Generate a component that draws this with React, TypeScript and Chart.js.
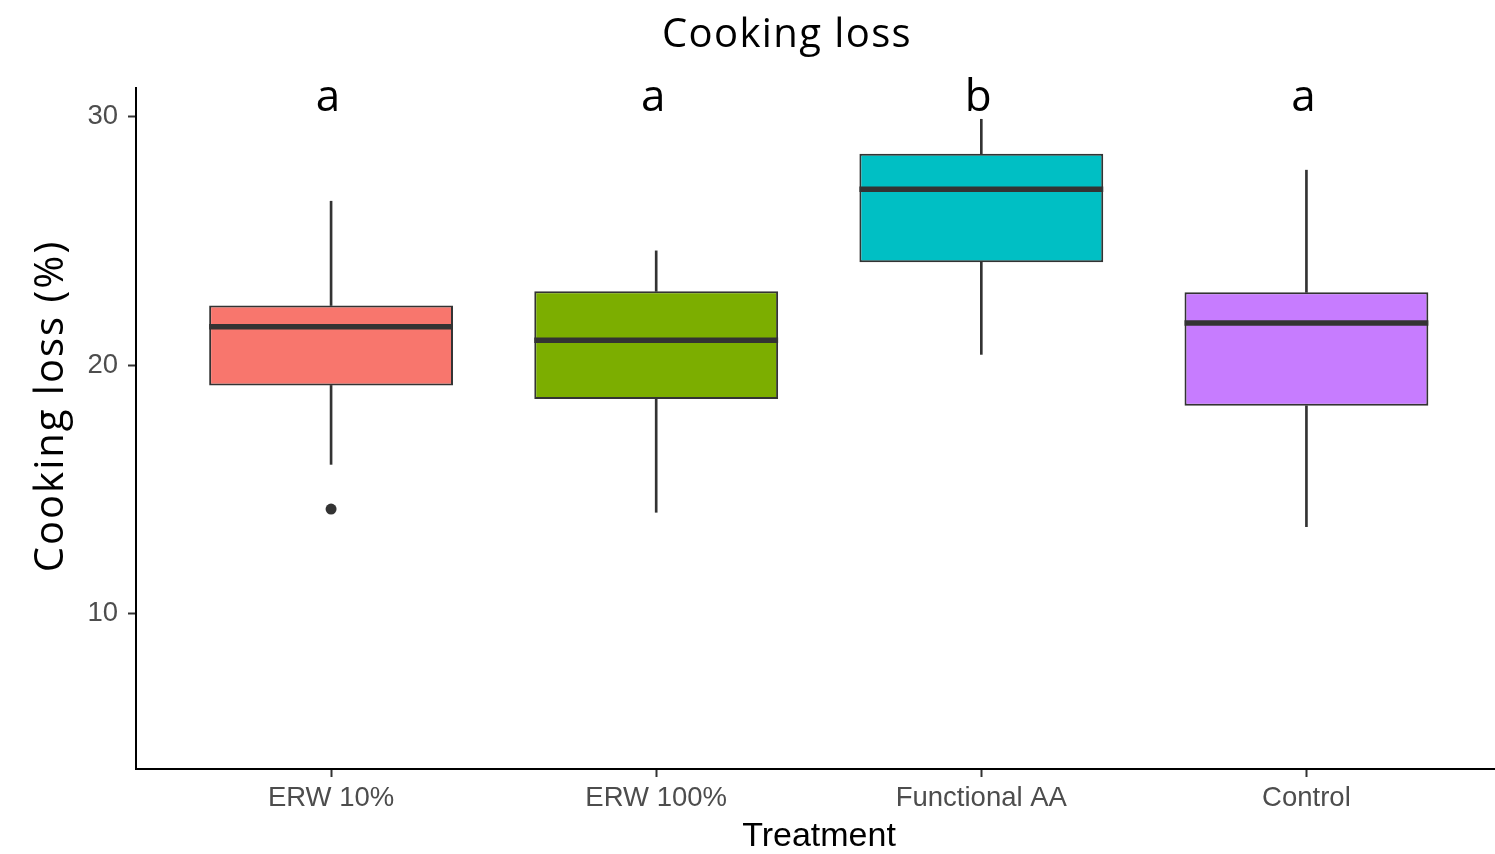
import { useEffect, useRef } from 'react';
import { Chart, registerables } from 'chart.js';

Chart.register(...registerables);

// ---- data ----
const categories = ['ERW 10%', 'ERW 100%', 'Functional AA', 'Control'];
const whiskerLow = [16.0, 14.07, 20.43, 13.49];
const q1 = [19.18, 18.63, 24.14, 18.36];
const median = [21.54, 21.0, 27.08, 21.69];
const q3 = [22.4, 22.97, 28.51, 22.93];
const whiskerHigh = [26.6, 24.6, 29.9, 27.85];
const outlierCategory = ['ERW 10%'];
const outlierValues = [14.2];
const groupLetters = ['a', 'a', 'b', 'a'];
const fillColors = ['#F8766D', '#7CAE00', '#00BFC4', '#C77CFF'];
const yTickValues = [10, 20, 30];
const letterLevel = 30.24;

const titleText = 'Cooking loss';
const yTitleText = 'Cooking loss (%)';
const xTitleText = 'Treatment';

const BOX_WIDTH = 0.75; // in category units
const EDGE = '#333333';
const TICK_FONT = { family: '"Liberation Sans", Arial, sans-serif', size: 27.5 };

const textPlugin = {
  id: 'textPlugin',
  afterDraw(chart: any) {
    const { ctx, scales } = chart;
    ctx.save();
    ctx.fillStyle = '#000000';
    // group letters
    ctx.font = '44px "Open Sans"';
    ctx.textAlign = 'center';
    ctx.textBaseline = 'alphabetic';
    groupLetters.forEach((l, i) => {
      ctx.fillText(l, scales.x.getPixelForValue(i + 1) - 3, scales.y.getPixelForValue(letterLevel));
    });
    // title
    ctx.font = '40px "Open Sans"';
    (ctx as any).letterSpacing = '1.4px';
    ctx.fillText(titleText, 787, 47);
    // y title
    ctx.save();
    (ctx as any).letterSpacing = '2px';
    ctx.translate(63, 406);
    ctx.rotate(-Math.PI / 2);
    ctx.fillText(yTitleText, 0, 0);
    ctx.restore();
    // x title
    (ctx as any).letterSpacing = '0px';
    ctx.font = '34px "Liberation Sans", Arial, sans-serif';
    ctx.fillText(xTitleText, 819, 846);
    ctx.restore();
  },
};

export default function App() {
  const canvasRef = useRef<HTMLCanvasElement | null>(null);

  useEffect(() => {
    document.body.style.margin = '0';
    const canvas = canvasRef.current;
    if (!canvas) return;
    const xs = categories.map((_, i) => i + 1);

    const halfBoxPx = (c: any) => {
      const sx = c.chart.scales.x;
      if (!sx) return 0;
      return Math.abs(sx.getPixelForValue(1 + BOX_WIDTH / 2) - sx.getPixelForValue(1));
    };

    const chart = new Chart(canvas, {
      type: 'bar',
      data: {
        datasets: [
          {
            type: 'scatter',
            data: xs.map((x, i) => ({ x, y: median[i] })),
            pointStyle: 'line',
            pointRadius: halfBoxPx,
            borderColor: EDGE,
            borderWidth: 5.5,
            backgroundColor: EDGE,
          } as any,
          {
            type: 'scatter',
            data: outlierCategory.map((c, i) => ({ x: categories.indexOf(c) + 1, y: outlierValues[i] })),
            backgroundColor: EDGE,
            borderColor: EDGE,
            borderWidth: 0,
            pointRadius: 5.5,
          } as any,
          {
            type: 'bar',
            data: xs.map((x, i) => ({ x, y: [q1[i], q3[i]] })),
            backgroundColor: fillColors,
            borderColor: EDGE,
            borderWidth: 2,
            borderSkipped: false,
            grouped: false,
            categoryPercentage: 1,
            barPercentage: BOX_WIDTH,
          } as any,
          {
            type: 'bar',
            data: xs.map((x, i) => ({ x, y: [q3[i], whiskerHigh[i]] })),
            backgroundColor: EDGE,
            borderWidth: 0,
            grouped: false,
            barThickness: 2,
          } as any,
          {
            type: 'bar',
            data: xs.map((x, i) => ({ x, y: [whiskerLow[i], q1[i]] })),
            backgroundColor: EDGE,
            borderWidth: 0,
            grouped: false,
            barThickness: 2,
          } as any,
        ],
      },
      options: {
        animation: false,
        responsive: true,
        maintainAspectRatio: false,
        layout: { autoPadding: false, padding: { top: 88, left: 0, right: 0, bottom: 0 } },
        plugins: {
          legend: { display: false },
          tooltip: { enabled: false },
          title: { display: false },
        },
        scales: {
          x: {
            type: 'linear',
            min: 0.4,
            max: 4.58,
            offset: false,
            afterBuildTicks: (s: any) => {
              s.ticks = categories.map((_, i) => ({ value: i + 1 }));
            },
            afterFit: (s: any) => {
              s.height = 85;
            },
            ticks: {
              callback: (v: any) => categories[Math.round(Number(v)) - 1] ?? '',
              font: TICK_FONT,
              color: '#4D4D4D',
              padding: 5,
              autoSkip: false,
              maxRotation: 0,
              minRotation: 0,
            },
            grid: {
              display: true,
              offset: false,
              drawOnChartArea: false,
              drawTicks: true,
              tickLength: 8,
              tickColor: EDGE,
              tickWidth: 2,
            },
            border: { display: true, color: '#000000', width: 2 },
          },
          y: {
            type: 'linear',
            min: 3.73,
            max: 31.16,
            afterBuildTicks: (s: any) => {
              s.ticks = yTickValues.map((v) => ({ value: v }));
            },
            afterFit: (s: any) => {
              s.width = 136;
            },
            ticks: {
              font: TICK_FONT,
              color: '#4D4D4D',
              padding: 10,
            },
            grid: {
              display: true,
              drawOnChartArea: false,
              drawTicks: true,
              tickLength: 8,
              tickColor: EDGE,
              tickWidth: 2,
            },
            border: { display: true, color: '#000000', width: 2 },
          },
        },
      } as any,
      plugins: [textPlugin],
    });

    return () => chart.destroy();
  }, []);

  return (
    <div style={{ position: 'absolute', left: 0, top: 0, width: 1495, height: 854, background: '#ffffff' }}>
      <canvas ref={canvasRef} />
    </div>
  );
}
